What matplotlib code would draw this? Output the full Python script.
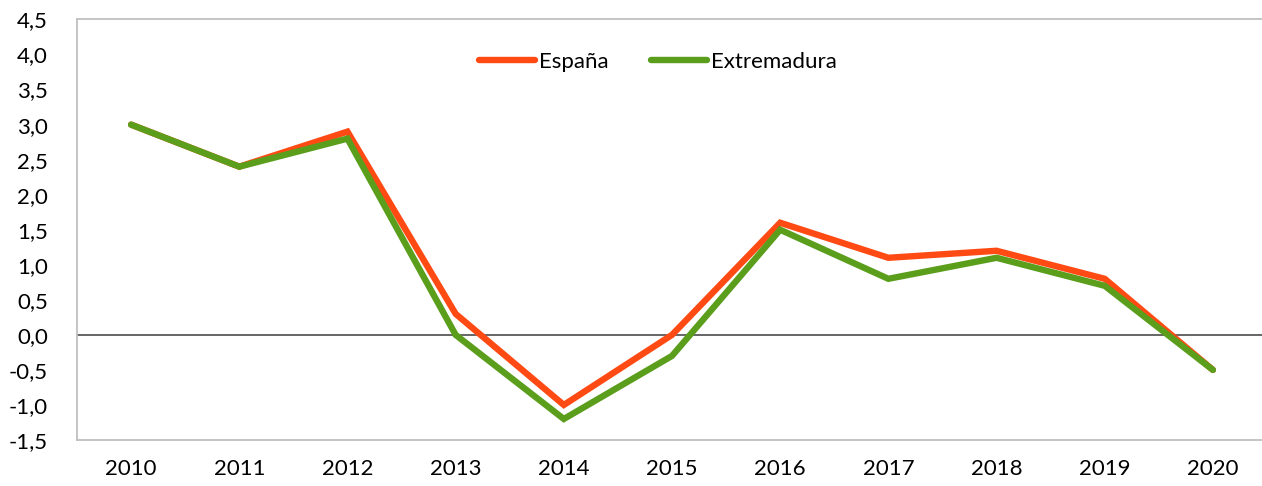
import matplotlib
matplotlib.use("Agg")
import matplotlib.pyplot as plt

years = ["2010", "2011", "2012", "2013", "2014", "2015", "2016", "2017", "2018", "2019", "2020"]
espana = [3.0, 2.4, 2.9, 0.3, -1.0, 0.0, 1.6, 1.1, 1.2, 0.8, -0.5]
extremadura = [3.0, 2.4, 2.8, 0.0, -1.2, -0.3, 1.5, 0.8, 1.1, 0.7, -0.5]
yticks = [-1.5, -1.0, -0.5, 0.0, 0.5, 1.0, 1.5, 2.0, 2.5, 3.0, 3.5, 4.0, 4.5]

plt.rcParams['font.family'] = ['Lato', 'DejaVu Sans']

W, H = 1262, 486
fig = plt.figure(figsize=(W / 100, H / 100), dpi=100)
left, right, top, bottom = 77, 1267, 19.5, 440
ax = fig.add_axes([left / W, 1 - bottom / H, (right - left) / W, (bottom - top) / H])

x = list(range(len(years)))
ax.plot(x, espana, color="#FF4A14", lw=4.6, solid_capstyle="round", solid_joinstyle="miter", label="España", zorder=3)
ax.plot(x, extremadura, color="#5A9E1C", lw=4.6, solid_capstyle="round", solid_joinstyle="miter", label="Extremadura", zorder=4)
ax.axhline(0, color="#595959", lw=1.3, zorder=2)

ax.set_xlim(-0.5, len(years) - 0.5)
ax.set_ylim(-1.5, 4.5)
ax.set_xticks(x)
ax.set_xticklabels(years)
ax.set_yticks(yticks)
ax.set_yticklabels([f"{v:.1f}".replace(".", ",") for v in yticks])
ax.tick_params(axis="both", length=0, labelsize=16, colors="#000000")
ax.tick_params(axis="y", pad=21)
ax.tick_params(axis="x", pad=14)
for lab in ax.get_yticklabels():
    lab.set_horizontalalignment("right")

for s in ["top", "left", "bottom"]:
    ax.spines[s].set_color("#BFBFBF")
    ax.spines[s].set_linewidth(1.3)
ax.spines["right"].set_visible(False)

leg = ax.legend(loc="center", bbox_to_anchor=((658 - left) / (right - left), (bottom - 62) / (bottom - top)),
                ncol=2, frameon=False, fontsize=16, handlelength=2.5, handletextpad=0.2,
                columnspacing=1.9)

fig.savefig("out.png", dpi=100)
